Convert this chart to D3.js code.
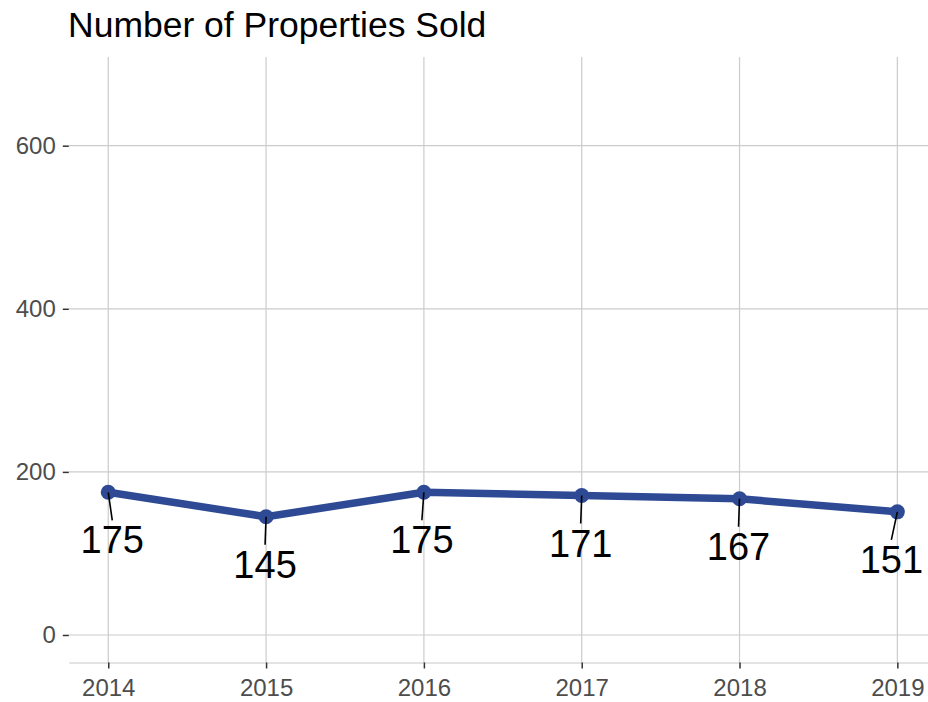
<!DOCTYPE html>
<html>
<head>
<meta charset="utf-8">
<script src="https://cdn.jsdelivr.net/npm/d3@7"></script>
<style>
  body { margin: 0; background: #fff; }
  svg { font-family: "Liberation Sans", Arial, sans-serif; }
  .grid line { stroke: #cccccc; stroke-width: 1.2; }
  .tick-label { fill: #4d4d4d; font-size: 24px; }
</style>
</head>
<body>
<div id="chart"></div>
<script>
var years = [2014, 2015, 2016, 2017, 2018, 2019];
var sold  = [175, 145, 175, 171, 167, 151];
var yTicks = [0, 200, 400, 600];
// horizontal shift of each repelled label (px)
var labelNudge = [4, -1, -2, -1, -1, -6];

var fullWidth = 928,
    fullHeight = 702,
    margin = {top: 57, left: 68.8},
    width  = 868,
    height = 605.5;

var data = years.map(function(y, i) {
  return {year: y, value: sold[i], nudge: labelNudge[i]};
});

var xScale = d3.scaleLinear()
  .domain([2013.75, 2019.25])
  .range([0, width]);

var yScale = d3.scaleLinear()
  .domain([-33.75, 708.75])
  .range([height, 0]);

var svg = d3.select("#chart").append("svg")
  .attr("width", fullWidth)
  .attr("height", fullHeight);

svg.append("text")
  .attr("x", 68)
  .attr("y", 37)
  .attr("font-size", 35.5)
  .attr("fill", "#000")
  .text("Number of Properties Sold");

var g = svg.append("g")
  .attr("transform", "translate(" + margin.left + "," + margin.top + ")");

// grid
var grid = g.append("g").attr("class", "grid");
grid.selectAll(".hg").data(yTicks).enter().append("line")
  .attr("x1", 0).attr("x2", width)
  .attr("y1", function(d) { return yScale(d); })
  .attr("y2", function(d) { return yScale(d); });
grid.selectAll(".vg").data(years).enter().append("line")
  .attr("x1", function(d) { return xScale(d); })
  .attr("x2", function(d) { return xScale(d); })
  .attr("y1", 0).attr("y2", height);

// bottom axis
var xAxis = g.append("g")
  .attr("transform", "translate(0," + height + ")")
  .call(d3.axisBottom(xScale).tickValues(years).tickFormat(d3.format("d"))
        .tickSizeInner(6).tickSizeOuter(0).tickPadding(10));
xAxis.select(".domain").attr("stroke", "#c8c8c8").attr("stroke-width", 1.2);
xAxis.selectAll(".tick line").attr("stroke", "#333").attr("stroke-width", 1.5);
xAxis.selectAll(".tick text").attr("class", "tick-label")
  .attr("font-family", null).attr("font-size", null);

// left axis (ticks only)
var yAxis = g.append("g")
  .call(d3.axisLeft(yScale).tickValues(yTicks)
        .tickSizeInner(6).tickSizeOuter(0).tickPadding(7));
yAxis.select(".domain").remove();
yAxis.selectAll(".tick line").attr("stroke", "#333").attr("stroke-width", 1.5);
yAxis.selectAll(".tick text").attr("class", "tick-label")
  .attr("font-family", null).attr("font-size", null);

// line
var line = d3.line()
  .x(function(d) { return xScale(d.year); })
  .y(function(d) { return yScale(d.value); });

g.append("path")
  .datum(data)
  .attr("fill", "none")
  .attr("stroke", "#2e4a94")
  .attr("stroke-width", 7.5)
  .attr("stroke-linejoin", "round")
  .attr("d", line);

g.selectAll(".pt").data(data).enter().append("circle")
  .attr("cx", function(d) { return xScale(d.year); })
  .attr("cy", function(d) { return yScale(d.value); })
  .attr("r", 7.5)
  .attr("fill", "#2e4a94");

// label segments
g.selectAll(".seg").data(data).enter().append("line")
  .attr("x1", function(d) { return xScale(d.year); })
  .attr("y1", function(d) { return yScale(d.value); })
  .attr("x2", function(d) { return xScale(d.year) + d.nudge; })
  .attr("y2", function(d) { return yScale(d.value) + 28; })
  .attr("stroke", "#000")
  .attr("stroke-width", 1.6);

g.selectAll(".lbl").data(data).enter().append("text")
  .attr("x", function(d) { return xScale(d.year) + d.nudge; })
  .attr("y", function(d) { return yScale(d.value) + 61; })
  .attr("text-anchor", "middle")
  .attr("font-size", 38)
  .attr("fill", "#000")
  .text(function(d) { return d.value; });
</script>
</body>
</html>
